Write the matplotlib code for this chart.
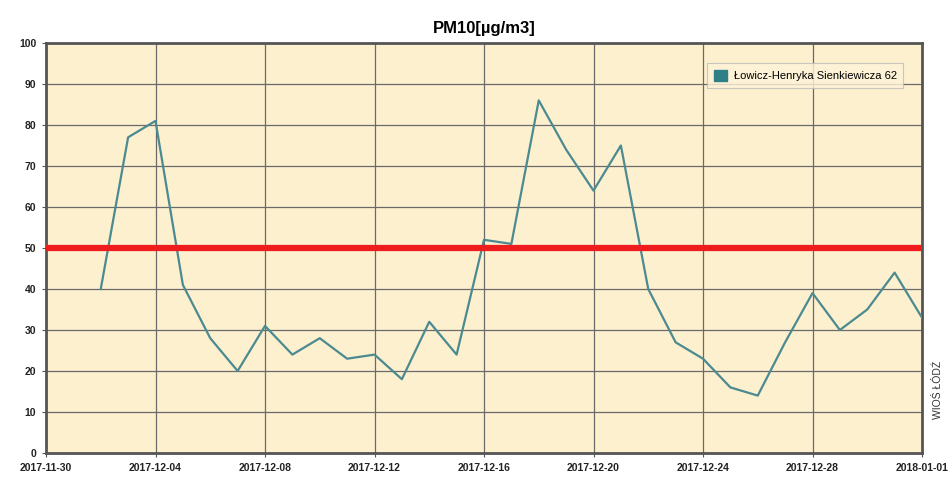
import numpy as np
import pandas as pd
import matplotlib.pyplot as plt
import matplotlib.dates as mdates
from matplotlib.patches import Patch

# dane
dates = pd.date_range('2017-12-02', '2018-01-01', freq='D')
pm10 = [40, 77, 81, 41, 28, 20, 31, 24, 28, 23, 24, 18, 32, 24, 52, 51,
        86, 74, 64, 75, 40, 27, 23, 16, 14, 27, 39, 30, 35, 44, 33]
station = 'Łowicz-Henryka Sienkiewicza 62'
limit = 50
tick_dates = pd.date_range('2017-11-30', '2018-01-01', freq='4D').tolist() + [pd.Timestamp('2018-01-01')]
tick_dates = sorted(set(tick_dates))

plt.rcParams['font.family'] = ['Liberation Sans', 'DejaVu Sans']

line_color = '#4b8a90'

fig = plt.figure(figsize=(9.51, 4.84), dpi=100)
ax = fig.add_axes([46 / 951, 1 - 453 / 484, 876 / 951, 410 / 484])
ax.set_facecolor('#fdf0cf')

ax.plot(dates, pm10, color=line_color, lw=1.6, zorder=3)
ax.axhline(limit, color='#ee1c1c', lw=4.5, zorder=4)

ax.set_xlim(pd.Timestamp('2017-11-30'), pd.Timestamp('2018-01-01'))
ax.set_ylim(0, 100)
ax.set_yticks(np.arange(0, 101, 10))
ax.set_xticks(tick_dates)
ax.xaxis.set_major_formatter(mdates.DateFormatter('%Y-%m-%d'))
ax.tick_params(labelsize=7.5, length=3, color='#555555', pad=4)
for lab in ax.get_xticklabels() + ax.get_yticklabels():
    lab.set_fontweight('bold')
    lab.set_color('#222222')

ax.grid(True, color='#6a6a6a', lw=0.9, zorder=1)
for s in ax.spines.values():
    s.set_color('#555555')
    s.set_linewidth(2)

ax.set_title('PM10[µg/m3]', fontsize=12, fontweight='bold', pad=7)

leg = ax.legend(handles=[Patch(facecolor='#2f7f86', edgecolor='#2f7f86')], labels=[station],
                loc='upper right', bbox_to_anchor=(0.985, 0.965), fontsize=8,
                frameon=True, fancybox=False, handlelength=1.2, handleheight=1.2,
                borderpad=0.6, handletextpad=0.6)
leg.get_frame().set_facecolor('#fdf3d8')
leg.get_frame().set_edgecolor('#bbbbbb')
leg.get_frame().set_linewidth(0.8)

fig.text(938 / 951, 1 - 390 / 484, 'WIOŚ ŁÓDŹ', rotation=90, fontsize=7.5,
         ha='center', va='center', color='#333333')

fig.savefig('out.png', dpi=100, facecolor='white')
